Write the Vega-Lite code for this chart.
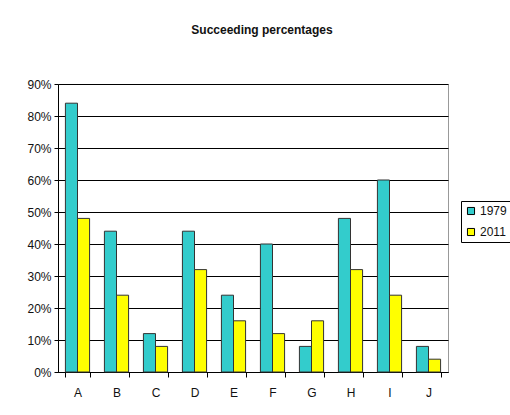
{
  "$schema": "https://vega.github.io/schema/vega-lite/v6.json",
  "width": 390,
  "height": 288,
  "autosize": {"type": "none"},
  "padding": {"left": 58, "top": 84, "right": 62, "bottom": 43},
  "background": "white",
  "title": {"text": "Succeeding percentages", "font": "Liberation Sans", "fontSize": 12, "fontWeight": "bold", "color": "#111", "anchor": "middle", "offset": 41, "dx": 9},
  "config": {
    "view": {"stroke": "#999", "strokeWidth": 1},
    "font": "Liberation Sans"
  },
  "data": {"values": [
    {"cat": "A", "year": "1979", "value": 0.84},
    {"cat": "A", "year": "2011", "value": 0.48},
    {"cat": "B", "year": "1979", "value": 0.44},
    {"cat": "B", "year": "2011", "value": 0.24},
    {"cat": "C", "year": "1979", "value": 0.12},
    {"cat": "C", "year": "2011", "value": 0.08},
    {"cat": "D", "year": "1979", "value": 0.44},
    {"cat": "D", "year": "2011", "value": 0.32},
    {"cat": "E", "year": "1979", "value": 0.24},
    {"cat": "E", "year": "2011", "value": 0.16},
    {"cat": "F", "year": "1979", "value": 0.40},
    {"cat": "F", "year": "2011", "value": 0.12},
    {"cat": "G", "year": "1979", "value": 0.08},
    {"cat": "G", "year": "2011", "value": 0.16},
    {"cat": "H", "year": "1979", "value": 0.48},
    {"cat": "H", "year": "2011", "value": 0.32},
    {"cat": "I", "year": "1979", "value": 0.60},
    {"cat": "I", "year": "2011", "value": 0.24},
    {"cat": "J", "year": "1979", "value": 0.08},
    {"cat": "J", "year": "2011", "value": 0.04}
  ]},
  "mark": {"type": "bar", "stroke": "#333", "strokeWidth": 1},
  "encoding": {
    "x": {"field": "cat", "type": "nominal", "title": null,
      "scale": {"paddingInner": 0.38, "paddingOuter": 0.19},
      "axis": {"labelAngle": 0, "labelFontSize": 12, "labelColor": "#111", "domainColor": "#000", "tickColor": "#000", "tickBand": "extent", "tickSize": 5, "labelPadding": 10}},
    "xOffset": {"field": "year", "type": "nominal"},
    "y": {"field": "value", "type": "quantitative", "title": null,
      "scale": {"domain": [0, 0.9]},
      "axis": {"format": ".0%", "values": [0, 0.1, 0.2, 0.3, 0.4, 0.5, 0.6, 0.7, 0.8, 0.9], "labelFontSize": 12, "labelColor": "#111", "domainColor": "#000", "tickColor": "#000", "tickSize": 4, "gridColor": "#000", "gridOpacity": 1, "labelPadding": 3}},
    "color": {"field": "year", "type": "nominal", "title": null,
      "scale": {"domain": ["1979", "2011"], "range": ["#33CCCC", "#FFFF00"]},
      "legend": {"orient": "none", "legendX": 403, "legendY": 117, "strokeColor": "#000", "padding": 4, "fillColor": "white", "symbolType": "square", "symbolStrokeColor": "#000", "symbolStrokeWidth": 1, "symbolSize": 50, "labelFontSize": 12, "labelOffset": 3, "labelColor": "#111", "rowPadding": 9}}
  }
}
